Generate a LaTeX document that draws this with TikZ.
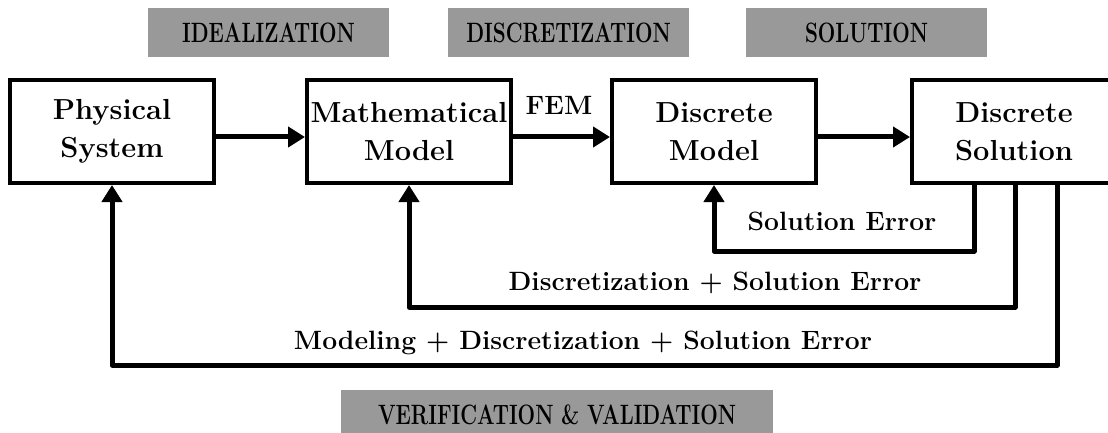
\documentclass[tikz,border=0pt]{standalone}
\usepackage{graphicx}
\usetikzlibrary{arrows.meta}
\newcommand{\bantext}[1]{\scalebox{0.74}[1]{#1}}
\begin{document}
\begin{tikzpicture}[x=1pt,y=-1pt,
  box/.style={draw, line width=4pt, minimum width=204pt, minimum height=103pt, align=center, inner sep=0pt, font=\fontsize{29}{38}\selectfont\bfseries},
  banner/.style={fill=black!40, minimum width=241pt, minimum height=49pt, inner sep=0pt, font=\fontsize{28}{32}\selectfont\bfseries},
  lbl/.style={font=\fontsize{26.5}{30}\selectfont\bfseries, inner sep=0pt},
  conn/.style={line width=5pt, line join=round, -{Triangle[length=17pt,width=20pt]}}]
\useasboundingbox (0,0) rectangle (1108,433);
% banners
\node[banner] (ideal) at (268.5,32.5) {\bantext{IDEALIZATION}};
\node[banner] (discr) at (568.5,32.5) {\bantext{DISCRETIZATION}};
\node[banner] (solu) at (866.5,32.5) {\bantext{SOLUTION}};
\node[banner, minimum width=432pt, minimum height=50pt] (vv) at (557,415) {\bantext{VERIFICATION \& VALIDATION}};
% boxes
\node[box] (phys) at (112,131.5) {Physical\\System};
\node[box] (math) at (409,131.5) {Mathematical\\Model};
\node[box] (dmod) at (714,131.5) {Discrete\\Model};
\node[box] (dsol) at (1014,131.5) {Discrete\\Solution};
% forward arrows
\draw[conn] ([yshift=-5.5pt]phys.east) -- ([yshift=-5.5pt]math.west);
\draw[conn] ([yshift=-5.5pt]math.east) -- ([yshift=-5.5pt]dmod.west);
\draw[conn] ([yshift=-5.5pt]dmod.east) -- ([yshift=-5.5pt]dsol.west);
\node[lbl] (fem) at (559,105) {FEM};
% feedback loops
\draw[conn] ([xshift=-40pt]dsol.south) -- ++(0,66) -| (dmod.south);
\draw[conn] ([xshift=1pt]dsol.south) -- ++(0,122) -| (math.south);
\draw[conn] ([xshift=43pt]dsol.south) -- ++(0,180) -| (phys.south);
\node[lbl] (se) at (842,221) {Solution Error};
\node[lbl] (dse) at (715,283) {Discretization + Solution Error};
\node[lbl] (mdse) at (583,343) {Modeling + Discretization + Solution Error};
\end{tikzpicture}
\end{document}
